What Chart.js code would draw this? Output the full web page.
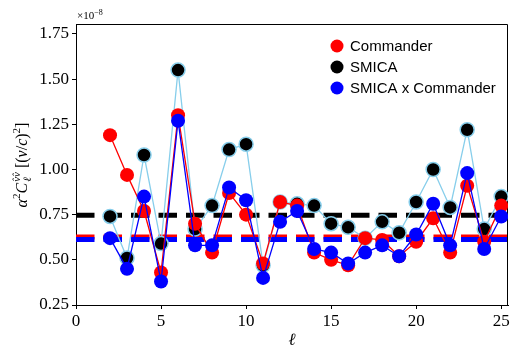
<!DOCTYPE html>
<html>
<head>
<meta charset="utf-8">
<script src="https://cdn.jsdelivr.net/npm/chart.js@4"></script>
<style>
  html, body { margin: 0; padding: 0; background: #fff; }
  #wrap { width: 510px; height: 348px; }
</style>
</head>
<body>
<div id="wrap"><canvas id="chart" width="510" height="348"></canvas></div>
<script>
// --- Data (units of 1e-8) ---
const ells = [2, 3, 4, 5, 6, 7, 8, 9, 10, 11, 12, 13, 14, 15, 16, 17, 18, 19, 20, 21, 22, 23, 24, 25];
const commander = [1.19, 0.97, 0.77, 0.43, 1.30, 0.70, 0.54, 0.87, 0.75, 0.48, 0.82, 0.80, 0.54, 0.50, 0.47, 0.62, 0.61, 0.52, 0.60, 0.73, 0.54, 0.91, 0.60, 0.80];
const smica = [0.74, 0.51, 1.08, 0.59, 1.55, 0.67, 0.80, 1.11, 1.14, 0.47, 0.82, 0.81, 0.80, 0.70, 0.68, 0.62, 0.71, 0.65, 0.82, 1.00, 0.79, 1.22, 0.67, 0.85];
const cross = [0.62, 0.45, 0.85, 0.38, 1.27, 0.58, 0.58, 0.90, 0.83, 0.40, 0.71, 0.77, 0.56, 0.54, 0.48, 0.54, 0.58, 0.52, 0.64, 0.81, 0.58, 0.98, 0.56, 0.74];
const meanCommander = 0.626;
const meanSmica = 0.746;
const meanCross = 0.613;
const xRange = [0, 25.4];
const yRange = [0.25, 1.805];
const xTicks = [0, 5, 10, 15, 20, 25];
const yTicks = [0.25, 0.50, 0.75, 1.00, 1.25, 1.50, 1.75];

const RED = '#ff0000', BLUE = '#0000ff', SKY = '#87ceeb';
const SERIF = '"Liberation Serif", "DejaVu Serif", serif';
const SANS = '"Liberation Sans", Arial, sans-serif';

const pts = (ys) => ells.map((x, i) => ({ x: x, y: ys[i] }));
const flat = (v) => xRange.map(x => ({ x: x, y: v }));

function meanLine(label, v, color, order) {
  return {
    label: label, data: flat(v), borderColor: color, borderWidth: 5,
    borderDash: [18.5, 9], pointRadius: 0, order: order, fill: false
  };
}

// --- helpers for the math labels ---
function drawRuns(ctx, runs, x, y) {
  let cx = x;
  runs.forEach(r => {
    ctx.font = r.font;
    ctx.fillText(r.t, cx, y + (r.dy || 0));
    if (!r.stack) cx += ctx.measureText(r.t).width + (r.gap || 0);
  });
  return cx - x;
}
function runsWidth(ctx, runs) {
  let w = 0;
  runs.forEach(r => { ctx.font = r.font; if (!r.stack) w += ctx.measureText(r.t).width + (r.gap || 0); });
  return w;
}

const it16 = 'italic 16px ' + SERIF, rm16 = '16px ' + SERIF, sm = '11px ' + SERIF, smIt = 'italic 11px ' + SERIF;
const yTitleRuns = [
  { t: 'α', font: it16 },
  { t: '2', font: sm, dy: -7 },
  { t: 'C', font: it16, gap: 1 },
  { t: 'ℓ', font: smIt, dy: 4, stack: true },
  { t: 'v̂v̂', font: smIt, dy: -7, gap: 4 },
  { t: '[(', font: rm16 },
  { t: 'v', font: it16 },
  { t: '/', font: rm16 },
  { t: 'c', font: it16 },
  { t: ')', font: rm16 },
  { t: '2', font: sm, dy: -7 },
  { t: ']', font: rm16 }
];

const legendItems = [
  { label: 'Commander', color: RED },
  { label: 'SMICA', color: '#000000' },
  { label: 'SMICA x Commander', color: BLUE }
];

const decorPlugin = {
  id: 'decor',
  beforeDatasetsDraw(chart) {
    const { ctx, chartArea: a } = chart;
    ctx.save();
    ctx.strokeStyle = '#000';
    ctx.lineWidth = 1;
    ctx.beginPath();
    ctx.moveTo(a.left, a.top + 0.5);
    ctx.lineTo(a.right - 0.5, a.top + 0.5);
    ctx.lineTo(a.right - 0.5, a.bottom);
    ctx.stroke();
    ctx.restore();
  },
  afterDraw(chart) {
    const { ctx, chartArea: a } = chart;
    ctx.save();
    ctx.fillStyle = '#000';
    ctx.textBaseline = 'alphabetic';

    // y title, rotated
    ctx.save();
    ctx.translate(27, 165);
    ctx.rotate(-Math.PI / 2);
    const w = runsWidth(ctx, yTitleRuns);
    drawRuns(ctx, yTitleRuns, -w / 2, 0);
    ctx.restore();

    // x title
    ctx.font = 'italic 17px ' + SERIF;
    ctx.textAlign = 'center';
    ctx.fillText('ℓ', (a.left + a.right) / 2, 345);

    // offset text
    ctx.textAlign = 'left';
    drawRuns(ctx, [
      { t: '×10', font: '11px ' + SERIF },
      { t: '−8', font: '8px ' + SERIF, dy: -4 }
    ], a.left + 1, 19);

    // legend
    ctx.font = '15px ' + SANS;
    ctx.textBaseline = 'middle';
    legendItems.forEach((item, i) => {
      const y = 46 + i * 21;
      ctx.beginPath();
      ctx.arc(337, y, 6.5, 0, Math.PI * 2);
      ctx.fillStyle = item.color;
      ctx.fill();
      ctx.fillStyle = '#000';
      ctx.fillText(item.label, 350, y + 1);
    });
    ctx.restore();
  }
};

new Chart(document.getElementById('chart'), {
  type: 'line',
  data: {
    datasets: [
      { label: 'Commander', data: pts(commander), borderColor: RED, borderWidth: 1.3,
        pointRadius: 7, pointBackgroundColor: RED, pointBorderWidth: 0, order: 2 },
      { label: 'SMICA', data: pts(smica), borderColor: SKY, borderWidth: 1.3,
        pointRadius: 7, pointBackgroundColor: '#000', pointBorderColor: SKY, pointBorderWidth: 1.5, order: 3 },
      { label: 'SMICA x Commander', data: pts(cross), borderColor: BLUE, borderWidth: 1.3,
        pointRadius: 7, pointBackgroundColor: BLUE, pointBorderWidth: 0, order: 1 },
      meanLine('mean SMICA', meanSmica, '#000', 6),
      meanLine('mean Commander', meanCommander, RED, 5),
      meanLine('mean cross', meanCross, BLUE, 4)
    ]
  },
  options: {
    responsive: false,
    animation: false,
    devicePixelRatio: 1,
    layout: { autoPadding: false, padding: { top: 24, right: 2, left: 0, bottom: 0 } },
    plugins: { legend: { display: false }, tooltip: { enabled: false } },
    elements: { line: { tension: 0 } },
    scales: {
      x: {
        type: 'linear', min: xRange[0], max: xRange[1],
        afterBuildTicks: s => { s.ticks = xTicks.map(v => ({ value: v })); },
        afterFit: s => { s.height = 43; s.paddingLeft = 0; s.paddingRight = 0; },
        grid: { display: true, drawOnChartArea: false, drawTicks: true, tickLength: 4, color: '#000' },
        border: { display: true, color: '#000', width: 1 },
        ticks: { color: '#000', padding: 2, maxRotation: 0, font: { family: SERIF, size: 17 }, callback: v => String(v) }
      },
      y: {
        type: 'linear', min: yRange[0], max: yRange[1],
        afterBuildTicks: s => { s.ticks = yTicks.map(v => ({ value: v })); },
        afterFit: s => { s.width = 76; s.paddingTop = 0; s.paddingBottom = 0; },
        grid: { display: true, drawOnChartArea: false, drawTicks: true, tickLength: 4, color: '#000' },
        border: { display: true, color: '#000', width: 1 },
        ticks: { color: '#000', padding: 3, font: { family: SERIF, size: 17 }, callback: v => v.toFixed(2) }
      }
    }
  },
  plugins: [decorPlugin]
});
</script>
</body>
</html>
